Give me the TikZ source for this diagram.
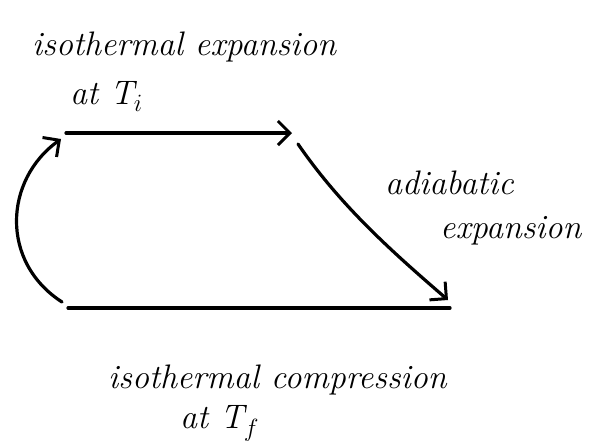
\documentclass[tikz,border=0pt]{standalone}
\usepackage{fontspec}
\setmainfont{Latin Modern Roman}
\usetikzlibrary{arrows.meta}
\begin{document}
\begin{tikzpicture}[x=1pt,y=-1pt,
  stroke/.style={line width=3.2pt,line cap=round,line join=round},
  tip/.style={-{Straight Barb[length=12pt,width=24pt,line width=3pt]}},
  lbl/.style={font=\fontsize{34}{36}\selectfont\itshape,inner sep=0pt,anchor=base west}]
\useasboundingbox (0,0) rectangle (605,445);
\coordinate (A) at (66,133);
\coordinate (B) at (292,133);
\coordinate (C) at (298,144);
\coordinate (D) at (448,300);
\coordinate (E) at (450,308);
\coordinate (F) at (68,308);
\coordinate (G) at (62,302);
\coordinate (H) at (61,139);
\node[lbl] (t1) at (32,55) {isothermal expansion};
\node[lbl] (t2) at (70,104) {at T$_i$};
\node[lbl] (t3) at (385,194) {adiabatic};
\node[lbl] (t4) at (440,238) {expansion};
\node[lbl] (t5) at (108,388) {isothermal compression};
\node[lbl] (t6) at (180,428) {at T$_f$};
\draw[stroke,tip] (A) -- (B);
\draw[stroke,tip] (C) .. controls (340,205) and (390,250) .. (D);
\draw[stroke] (E) -- (F);
\draw[stroke,tip] (G) .. controls (0,262) and (4,180) .. (H);
\end{tikzpicture}
\end{document}
